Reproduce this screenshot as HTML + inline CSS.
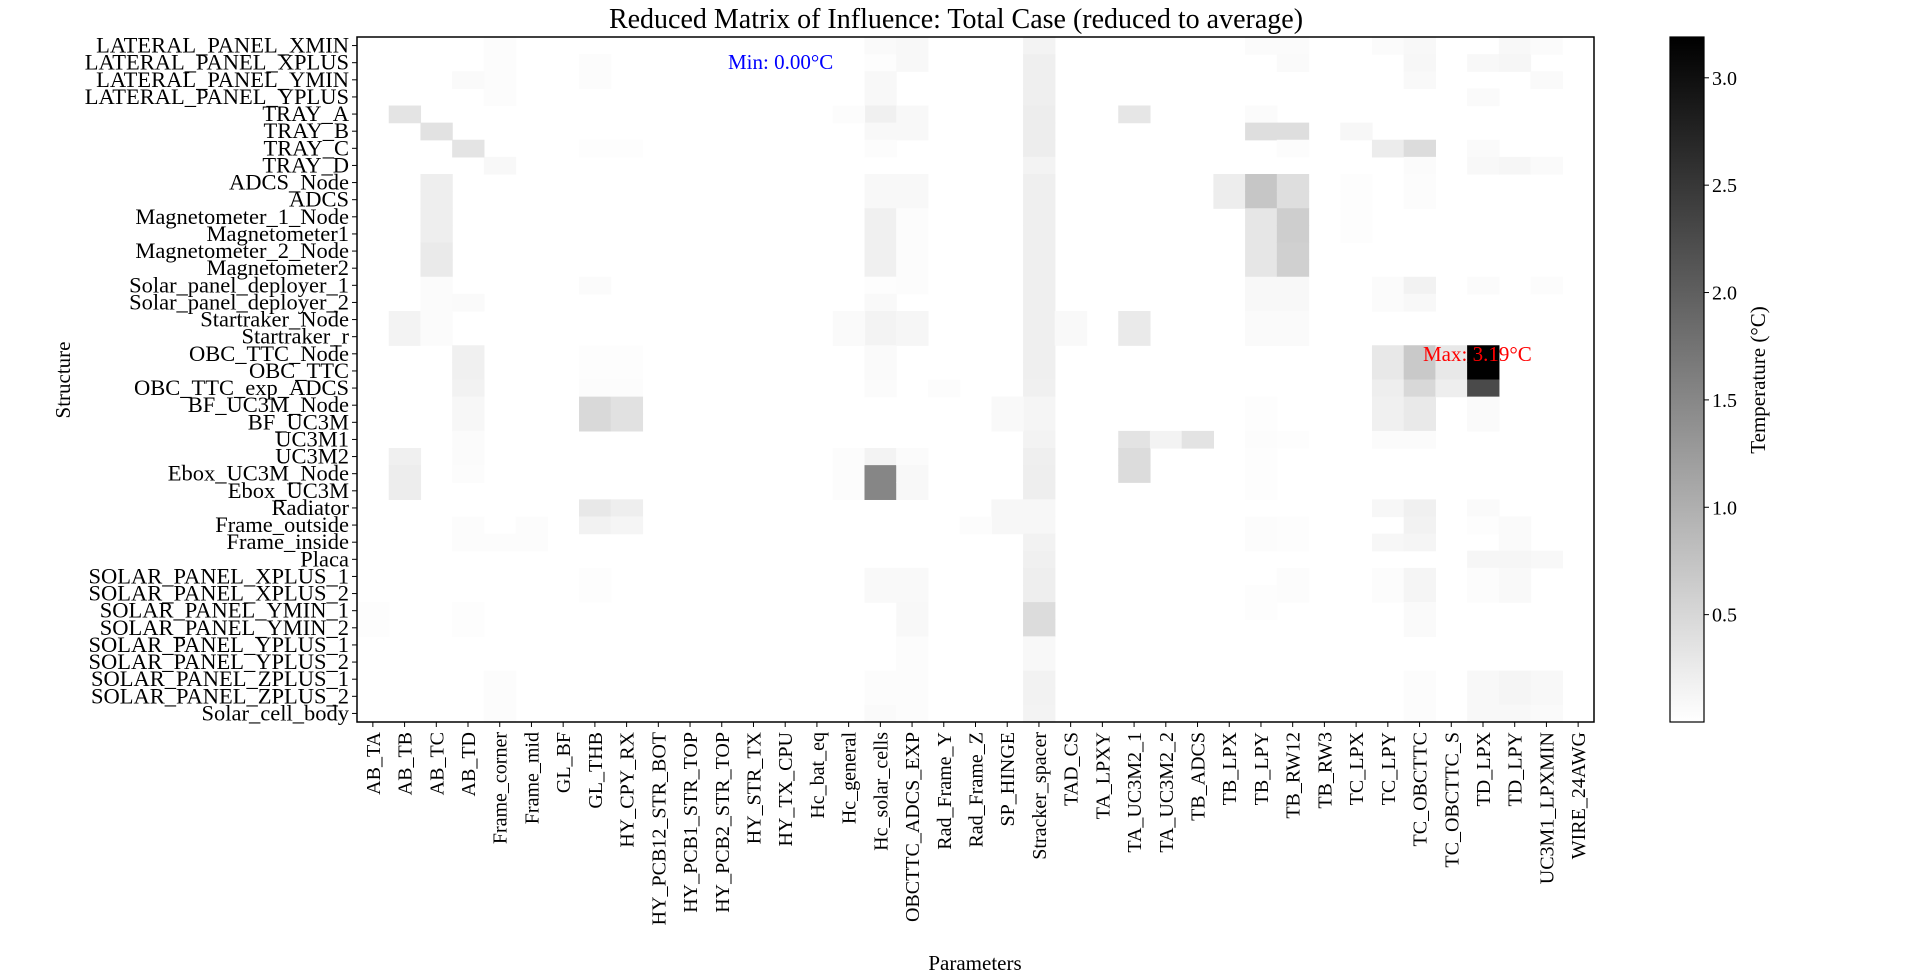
<!DOCTYPE html>
<html><head><meta charset="utf-8"><style>
html,body{margin:0;padding:0;background:#fff;}
svg{display:block;font-family:"Liberation Serif","DejaVu Serif",serif;}
</style></head><body>
<svg id="chart" width="1920" height="975" viewBox="0 0 1920 975">
<defs><linearGradient id="cbg" x1="0" y1="1" x2="0" y2="0"><stop offset="0" stop-color="#fff"/><stop offset="1" stop-color="#000"/></linearGradient></defs>
<text x="956" y="28" font-size="28" text-anchor="middle">Reduced Matrix of Influence: Total Case (reduced to average)</text>
<g id="cells"></g>
<g id="yticks"></g>
<g id="xticks"></g>
<rect x="357" y="37" width="1237" height="685" fill="none" stroke="#000" stroke-width="1.5"/>
<text x="975" y="970" font-size="21" text-anchor="middle">Parameters</text>
<text transform="translate(70,380) rotate(-90)" font-size="21" text-anchor="middle">Structure</text>
<rect x="1670" y="37" width="34" height="685" fill="url(#cbg)" stroke="#000" stroke-width="1.2"/>
<g id="cbticks"></g>
<text transform="translate(1765,380) rotate(-90)" font-size="21" text-anchor="middle">Temperature (°C)</text>
<text x="728" y="69" font-size="21" fill="#0000ff">Min: 0.00°C</text>
<text x="1423" y="361" font-size="21" fill="#ff0000">Max: 3.19°C</text>
</svg>
<script>
const parameters = ["AB_TA","AB_TB","AB_TC","AB_TD","Frame_corner","Frame_mid","GL_BF","GL_THB","HY_CPY_RX","HY_PCB12_STR_BOT","HY_PCB1_STR_TOP","HY_PCB2_STR_TOP","HY_STR_TX","HY_TX_CPU","Hc_bat_eq","Hc_general","Hc_solar_cells","OBCTTC_ADCS_EXP","Rad_Frame_Y","Rad_Frame_Z","SP_HINGE","Stracker_spacer","TAD_CS","TA_LPXY","TA_UC3M2_1","TA_UC3M2_2","TB_ADCS","TB_LPX","TB_LPY","TB_RW12","TB_RW3","TC_LPX","TC_LPY","TC_OBCTTC","TC_OBCTTC_S","TD_LPX","TD_LPY","UC3M1_LPXMIN","WIRE_24AWG"];
const structures = ["LATERAL_PANEL_XMIN","LATERAL_PANEL_XPLUS","LATERAL_PANEL_YMIN","LATERAL_PANEL_YPLUS","TRAY_A","TRAY_B","TRAY_C","TRAY_D","ADCS_Node","ADCS","Magnetometer_1_Node","Magnetometer1","Magnetometer_2_Node","Magnetometer2","Solar_panel_deployer_1","Solar_panel_deployer_2","Startraker_Node","Startraker_r","OBC_TTC_Node","OBC_TTC","OBC_TTC_exp_ADCS","BF_UC3M_Node","BF_UC3M","UC3M1","UC3M2","Ebox_UC3M_Node","Ebox_UC3M","Radiator","Frame_outside","Frame_inside","Placa","SOLAR_PANEL_XPLUS_1","SOLAR_PANEL_XPLUS_2","SOLAR_PANEL_YMIN_1","SOLAR_PANEL_YMIN_2","SOLAR_PANEL_YPLUS_1","SOLAR_PANEL_YPLUS_2","SOLAR_PANEL_ZPLUS_1","SOLAR_PANEL_ZPLUS_2","Solar_cell_body"];
const colorbarTicks = [0.5,1.0,1.5,2.0,2.5,3.0];
const colorbarTickLabels = ["0.5","1.0","1.5","2.0","2.5","3.0"];
const vMin = 0, vMax = 3.19;
// nonzero cells: [structureIndex, parameterIndex, value]
const cells = [
[0,4,.04],[1,4,.04],[2,4,.04],[3,4,.04],[7,4,.09],[2,3,.06],[1,7,.04],[2,7,.04],
[4,1,.34],[5,2,.36],[6,3,.34],[6,7,.025],[6,8,.025],
[8,2,.21],[9,2,.21],[10,2,.21],[11,2,.21],[12,2,.26],[13,2,.26],
[14,2,.05],[15,2,.05],[15,3,.06],[14,7,.05],[16,1,.15],[17,1,.15],[16,2,.05],[17,2,.05],
[18,3,.19],[19,3,.19],[18,7,.025],[19,7,.025],[18,8,.025],[19,8,.025],
[0,16,.06],[1,16,.03],[2,16,.09],[3,16,.09],[4,16,.19],[5,16,.09],[6,16,.04],[8,16,.09],[9,16,.09],[10,16,.19],[11,16,.19],[12,16,.19],[13,16,.19],[14,16,.025],[15,16,.075],[16,16,.15],[17,16,.15],[18,16,.06],[19,16,.06],
[0,17,.09],[1,17,.09],[4,17,.09],[5,17,.09],[8,17,.09],[9,17,.09],[10,17,.04],[11,17,.04],[12,17,.04],[13,17,.04],[14,17,.04],[16,17,.11],[17,17,.11],
[4,15,.04],[16,15,.06],[17,15,.06],
[0,21,.15],[1,21,.2],[2,21,.2],[3,21,.2],[4,21,.225],[5,21,.225],[6,21,.225],[7,21,.15],[8,21,.2],[9,21,.2],[10,21,.2],[11,21,.2],[12,21,.2],[13,21,.2],[14,21,.2],[15,21,.2],[16,21,.2],[17,21,.2],[18,21,.2],[19,21,.2],
[16,22,.075],[17,22,.075],[4,24,.31],[16,24,.26],[17,24,.26],[8,27,.225],[9,27,.225],
[0,28,.05],[4,28,.05],[5,28,.41],[8,28,.71],[9,28,.71],[10,28,.31],[11,28,.31],[12,28,.31],[13,28,.31],[14,28,.09],[15,28,.09],[16,28,.06],[17,28,.06],
[0,29,.05],[1,29,.06],[5,29,.41],[6,29,.04],[8,29,.41],[9,29,.41],[10,29,.61],[11,29,.61],[12,29,.59],[13,29,.59],[14,29,.09],[15,29,.09],[16,29,.06],[17,29,.06],
[5,31,.10],[8,31,.025],[9,31,.025],[10,31,.025],[11,31,.025],
[0,32,.05],[6,32,.24],[14,32,.05],[15,32,.05],[18,32,.29],[19,32,.29],
[0,33,.09],[1,33,.10],[2,33,.075],[6,33,.44],[7,33,.05],[8,33,.04],[9,33,.04],[14,33,.16],[15,33,.09],[18,33,.68],[19,33,.68],
[18,34,.29],[19,34,.29],
[1,35,.09],[3,35,.06],[6,35,.06],[7,35,.09],[14,35,.05],[18,35,3.19],[19,35,3.19],
[0,36,.09],[1,36,.11],[7,36,.11],[0,37,.05],[2,37,.06],[7,37,.06],[14,37,.04],
[20,21,.19],[21,21,.125],[22,21,.125],[23,21,.15],[24,21,.2],[25,21,.21],[26,21,.21],[27,21,.10],[28,21,.10],[29,21,.16],[30,21,.19],[31,21,.21],[32,21,.21],[33,21,.44],[34,21,.44],[35,21,.09],[36,21,.09],[37,21,.16],[38,21,.16],[39,21,.15],
[21,20,.075],[22,20,.075],[27,20,.10],[28,20,.10],[28,19,.04],
[23,24,.35],[24,24,.44],[25,24,.44],[23,25,.15],[23,26,.35],
[21,28,.025],[22,28,.025],[23,28,.04],[24,28,.025],[25,28,.025],[26,28,.025],[28,28,.04],[29,28,.04],[32,28,.025],[33,28,.025],
[23,29,.025],[28,29,.025],[29,29,.025],[31,29,.04],[32,29,.04],
[20,32,.21],[21,32,.19],[22,32,.19],[23,32,.05],[27,32,.10],[29,32,.10],[31,32,.04],[32,32,.04],
[20,33,.49],[21,33,.28],[22,33,.28],[23,33,.05],[27,33,.19],[28,33,.16],[29,33,.125],[31,33,.125],[32,33,.125],[33,33,.06],[34,33,.06],[37,33,.04],[38,33,.04],[39,33,.04],
[20,34,.21],
[20,35,2.26],[21,35,.06],[22,35,.06],[27,35,.06],[28,35,.025],[30,35,.11],[31,35,.04],[32,35,.04],[37,35,.09],[38,35,.09],[39,35,.09],
[28,36,.06],[29,36,.06],[30,36,.11],[31,36,.075],[32,36,.075],[37,36,.125],[38,36,.125],[39,36,.09],
[30,37,.09],[37,37,.09],[38,37,.09],[39,37,.06],
[20,3,.16],[21,3,.10],[22,3,.10],[23,3,.05],[24,3,.05],[25,3,.04],[28,3,.04],[29,3,.04],
[20,7,.04],[21,7,.48],[22,7,.48],[27,7,.29],[28,7,.16],[31,7,.025],[32,7,.025],
[20,8,.04],[21,8,.38],[22,8,.38],[27,8,.21],[28,8,.125],
[24,1,.19],[25,1,.225],[26,1,.225],[29,4,.04],[37,4,.04],[38,4,.04],[39,4,.04],[28,5,.04],[29,5,.04],
[33,0,.025],[34,0,.025],[33,3,.025],[34,3,.025],[24,15,.04],[25,15,.04],[26,15,.04],
[20,16,.05],[24,16,.15],[25,16,1.51],[26,16,1.51],[31,16,.075],[32,16,.075],[37,16,.04],[38,16,.04],[39,16,.06],
[24,17,.05],[25,17,.09],[26,17,.09],[31,17,.075],[32,17,.075],[33,17,.09],[34,17,.09],[35,17,.04],[36,17,.04],[37,17,.04],[38,17,.04],[39,17,.04],
[20,18,.04]
];
const NS="http://www.w3.org/2000/svg";
const PL=357, PT=37, PW=1237, PH=685;
const cw = PW/parameters.length, ch = PH/structures.length;
function xScale(i){return PL + i*cw;}
function yScale(i){return PT + i*ch;}
function cbScale(v){return PT + PH - (v - vMin)/(vMax - vMin)*PH;}
function color(v){const g=Math.round(255*(1-Math.max(0,Math.min(1,(v-vMin)/(vMax-vMin)))));return `rgb(${g},${g},${g})`;}
function mk(tag,attrs,parent){const e=document.createElementNS(NS,tag);for(const k in attrs)e.setAttribute(k,attrs[k]);parent.appendChild(e);return e;}
const gC=document.getElementById('cells');
cells.forEach(c=>{
  const r=mk('rect',{x:xScale(c[1]).toFixed(2),y:yScale(c[0]).toFixed(2),width:(cw+0.6).toFixed(2),height:(ch+0.6).toFixed(2),fill:color(c[2])},gC);
  
  
});
const gY=document.getElementById('yticks');
structures.forEach((s,i)=>{
  const y=yScale(i)+ch/2;
  const l=mk('line',{x1:PL-5,x2:PL,y1:y,y2:y,stroke:'#000','stroke-width':1},gY);
  
  
  const t=mk('text',{x:PL-8,y:y+7,'font-size':22.5,'text-anchor':'end'},gY);
  t.textContent=s;
  
  
});
const gX=document.getElementById('xticks');
parameters.forEach((p,i)=>{
  const x=xScale(i)+cw/2;
  const l=mk('line',{x1:x,x2:x,y1:PT+PH,y2:PT+PH+5,stroke:'#000','stroke-width':1},gX);
  
  
  const t=mk('text',{transform:`translate(${x+7},${PT+PH+10}) rotate(-90)`,'font-size':20,'text-anchor':'end'},gX);
  t.textContent=p;
  
  
});
const gB=document.getElementById('cbticks');
colorbarTicks.forEach((v,i)=>{
  const y=cbScale(v);
  const l=mk('line',{x1:1704,x2:1709,y1:y,y2:y,stroke:'#000','stroke-width':1},gB);
  
  
  const t=mk('text',{x:1712,y:y+7,'font-size':20},gB);
  t.textContent=colorbarTickLabels[i];
  
  
});
</script>
</body></html>
